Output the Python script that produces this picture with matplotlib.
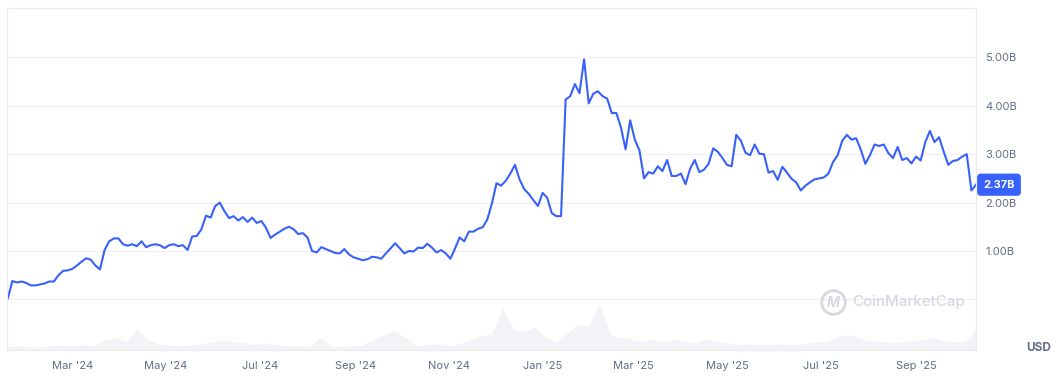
import numpy as np
import pandas as pd
import matplotlib
matplotlib.use("Agg")
import matplotlib.pyplot as plt
import matplotlib.dates as mdates
import matplotlib.transforms as mtransforms

plt.rcParams['font.family'] = ['Inter', 'DejaVu Sans']

# market cap, billions USD, one value every 3 days from 19 Jan 2024
start = "2024-01-19"
cap = [
    0.02, 0.38, 0.35, 0.37, 0.34, 0.29, 0.29, 0.31, 0.33, 0.37,
    0.37, 0.50, 0.59, 0.60, 0.63, 0.70, 0.78, 0.85, 0.82, 0.70,
    0.62, 1.02, 1.20, 1.26, 1.26, 1.14, 1.11, 1.14, 1.10, 1.20,
    1.08, 1.12, 1.14, 1.12, 1.06, 1.12, 1.14, 1.10, 1.12, 1.02,
    1.30, 1.31, 1.45, 1.73, 1.69, 1.93, 2.00, 1.82, 1.68, 1.72,
    1.63, 1.70, 1.60, 1.69, 1.58, 1.62, 1.48, 1.27, 1.34, 1.40,
    1.46, 1.50, 1.45, 1.35, 1.37, 1.28, 1.00, 0.97, 1.08, 1.04,
    1.00, 0.96, 0.95, 1.04, 0.93, 0.87, 0.84, 0.81, 0.83, 0.88,
    0.87, 0.84, 0.95, 1.05, 1.16, 1.06, 0.95, 1.00, 0.99, 1.07,
    1.06, 1.15, 1.07, 0.97, 1.02, 0.95, 0.84, 1.05, 1.28, 1.20,
    1.40, 1.40, 1.46, 1.49, 1.65, 1.98, 2.40, 2.35, 2.45, 2.60,
    2.78, 2.48, 2.28, 2.18, 2.05, 1.93, 2.20, 2.10, 1.78, 1.72,
    1.72, 4.13, 4.20, 4.45, 4.26, 4.96, 4.05, 4.25, 4.30, 4.20,
    4.15, 3.85, 3.85, 3.55, 3.10, 3.70, 3.30, 3.08, 2.50, 2.63,
    2.60, 2.75, 2.65, 2.88, 2.55, 2.55, 2.60, 2.38, 2.70, 2.88,
    2.63, 2.68, 2.80, 3.12, 3.05, 2.92, 2.78, 2.75, 3.40, 3.28,
    3.03, 2.98, 3.20, 3.01, 3.00, 2.62, 2.65, 2.47, 2.74, 2.62,
    2.49, 2.42, 2.25, 2.35, 2.42, 2.48, 2.50, 2.52, 2.60, 2.84,
    2.98, 3.28, 3.40, 3.30, 3.33, 3.10, 2.80, 2.98, 3.20, 3.17,
    3.20, 3.02, 2.92, 3.15, 2.88, 2.92, 2.81, 2.95, 2.87, 3.25,
    3.48, 3.25, 3.35, 3.05, 2.78, 2.86, 2.88, 2.95, 3.00, 2.25,
    2.37,
]
dates = pd.date_range(start, periods=len(cap), freq="3D")

# trading volume, relative heights, weekly
vol = [
    3, 4, 3, 3, 4, 5, 4, 5, 4, 10, 12, 8, 20, 10, 6, 5, 4, 5, 6, 8,
    10, 8, 7, 5, 7, 5, 4, 4, 3, 12, 4, 3, 4, 5, 10, 15, 18, 12, 4, 5,
    6, 4, 6, 10, 14, 15, 40, 20, 18, 22, 12, 8, 16, 25, 22, 45, 14, 12, 10, 8,
    10, 8, 10, 8, 7, 10, 8, 7, 5, 6, 5, 5, 6, 5, 6, 8, 8, 12, 15, 12,
    9, 8, 7, 8, 9, 10, 12, 9, 8, 8, 20,
]
vol_dates = pd.date_range(start, periods=len(vol), freq="7D")

fig = plt.figure(figsize=(10.59, 3.77), dpi=100)
rect = [7 / 1059, 27 / 377, 969 / 1059, 342 / 377]
xmin = dates[0] - pd.Timedelta(days=0.5)
xmax = dates[-1]

ax_vol = fig.add_axes(rect)
ax_vol.fill_between(vol_dates, vol, color="#f1f3f6", lw=0)
ax_vol.set_xlim(xmin, xmax)
ax_vol.set_ylim(0, max(vol) * 7.3)
ax_vol.axis("off")

ax = fig.add_axes(rect)
ax.patch.set_visible(False)
ax.plot(dates, cap, color="#3861fb", lw=1.5, solid_joinstyle="round")
ax.set_xlim(xmin, xmax)
ax.set_ylim(-1.045, 6.02)

for s in ax.spines.values():
    s.set_color("#ebebeb")
    s.set_linewidth(0.8)

ax.yaxis.tick_right()
ax.set_yticks([0, 1, 2, 3, 4, 5])
ax.set_yticklabels(["", "1.00B", "2.00B", "3.00B", "4.00B", "5.00B"])
ax.grid(axis="y", color="#efefef", lw=0.8)
ax.tick_params(axis="y", length=0, pad=6.5, labelsize=8, labelcolor="#616e85")

ax.xaxis.set_major_locator(mdates.MonthLocator(bymonth=[1, 3, 5, 7, 9, 11]))
ax.xaxis.set_major_formatter(mdates.DateFormatter("%b '%y"))
ax.tick_params(axis="x", length=0, pad=8, labelsize=8, labelcolor="#616e85")

# current value badge
trans = mtransforms.blended_transform_factory(ax.transAxes, ax.transData)
ax.text(1.0075, cap[-1], f"{cap[-1]:.2f}B", transform=trans, ha="left", va="center",
        color="white", fontsize=8, fontweight="bold",
        bbox=dict(boxstyle="round,pad=0.55,rounding_size=0.35", fc="#3861fb", ec="none"))

# watermark
ax.plot([0.8525], [0.1405], marker="o", ms=17, mfc="none", mec="#d5d8de", mew=2,
        transform=ax.transAxes)
ax.text(0.8525, 0.1385, "M", transform=ax.transAxes, ha="center", va="center",
        color="#d5d8de", fontsize=10, fontweight="bold", style="italic")
ax.text(0.872, 0.1405, "CoinMarketCap", transform=ax.transAxes, ha="left", va="center",
        color="#d5d8de", fontsize=10.8, fontweight="medium")

fig.text(1039 / 1059, 1 - 348 / 377, "USD", ha="center", va="center",
         color="#616e85", fontsize=8.5, fontweight="bold")

fig.savefig("out.png", dpi=100)
